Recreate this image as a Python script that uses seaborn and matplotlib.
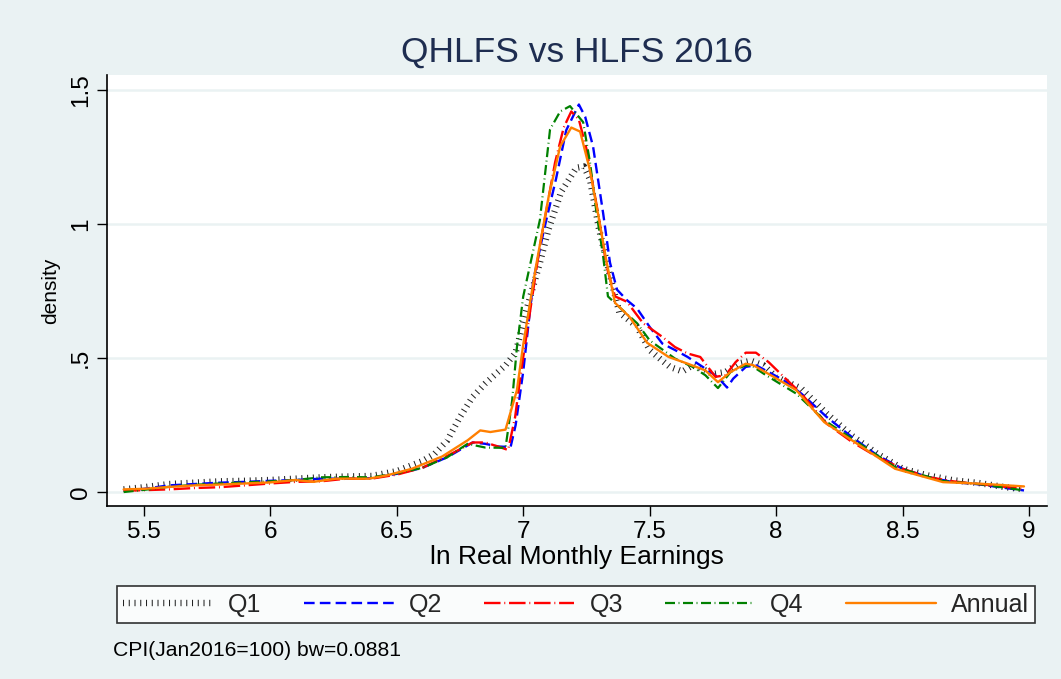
import numpy as np
import pandas as pd
import matplotlib
matplotlib.use('Agg')
import matplotlib.pyplot as plt
from matplotlib.lines import Line2D
import seaborn as sns

# kernel density estimates
q1_x = [5.42, 5.5, 5.6, 5.7, 5.8, 5.9, 6.0, 6.1, 6.2, 6.3, 6.4, 6.5, 6.6, 6.65, 6.7, 6.75, 6.8, 6.85,
        6.9, 6.93, 6.97, 7.01, 7.066, 7.1, 7.15, 7.21, 7.24, 7.264, 7.3, 7.34, 7.38, 7.45, 7.5, 7.55,
        7.58, 7.63, 7.67, 7.72, 7.75, 7.8, 7.85, 7.9, 7.95, 8.0, 8.1, 8.2, 8.3, 8.4, 8.5, 8.6, 8.7,
        8.8, 8.9, 8.98]
q1_y = [0.010, 0.018, 0.030, 0.035, 0.040, 0.042, 0.045, 0.050, 0.055, 0.058, 0.060, 0.078, 0.115,
        0.143, 0.193, 0.280, 0.355, 0.405, 0.448, 0.473, 0.520, 0.670, 0.856, 0.980, 1.120, 1.210,
        1.215, 1.166, 0.980, 0.820, 0.670, 0.617, 0.530, 0.490, 0.467, 0.450, 0.473, 0.454, 0.440,
        0.448, 0.479, 0.490, 0.473, 0.430, 0.386, 0.293, 0.210, 0.143, 0.087, 0.062, 0.044, 0.034,
        0.019, 0.010]

q2_x = [5.42, 5.5, 5.6, 5.7, 5.8, 5.9, 6.0, 6.1, 6.2, 6.3, 6.4, 6.5, 6.6, 6.7, 6.8, 6.85, 6.9, 6.95,
        6.97, 7.0, 7.04, 7.08, 7.13, 7.17, 7.22, 7.245, 7.276, 7.316, 7.343, 7.371, 7.41, 7.45, 7.5,
        7.55, 7.6, 7.65, 7.7, 7.75, 7.78, 7.806, 7.83, 7.88, 7.92, 7.97, 8.03, 8.1, 8.2, 8.3, 8.4,
        8.5, 8.6, 8.7, 8.8, 8.9, 8.98]
q2_y = [0.005, 0.012, 0.025, 0.030, 0.035, 0.038, 0.042, 0.045, 0.050, 0.050, 0.052, 0.068, 0.090,
        0.130, 0.185, 0.180, 0.170, 0.168, 0.250, 0.450, 0.790, 0.970, 1.170, 1.350, 1.446, 1.400,
        1.290, 1.040, 0.856, 0.755, 0.716, 0.685, 0.616, 0.554, 0.530, 0.504, 0.473, 0.442, 0.417,
        0.390, 0.423, 0.467, 0.473, 0.448, 0.417, 0.367, 0.280, 0.205, 0.137, 0.087, 0.056, 0.037,
        0.029, 0.016, 0.006]

q3_x = [5.42, 5.5, 5.6, 5.7, 5.8, 5.9, 6.0, 6.1, 6.2, 6.3, 6.4, 6.5, 6.6, 6.7, 6.8, 6.85, 6.9, 6.94,
        6.968, 6.99, 7.066, 7.126, 7.16, 7.19, 7.22, 7.25, 7.296, 7.33, 7.363, 7.41, 7.474, 7.55, 7.6,
        7.65, 7.7, 7.76, 7.8, 7.84, 7.88, 7.92, 7.97, 8.03, 8.1, 8.2, 8.3, 8.4, 8.5, 8.6, 8.7, 8.8,
        8.9, 8.98]
q3_y = [0.005, 0.007, 0.010, 0.015, 0.018, 0.025, 0.032, 0.038, 0.040, 0.050, 0.050, 0.065, 0.090,
        0.135, 0.185, 0.185, 0.170, 0.157, 0.280, 0.440, 0.920, 1.230, 1.360, 1.420, 1.390, 1.280,
        1.040, 0.840, 0.730, 0.710, 0.630, 0.579, 0.541, 0.517, 0.504, 0.430, 0.436, 0.485, 0.520,
        0.520, 0.485, 0.430, 0.367, 0.255, 0.187, 0.131, 0.087, 0.056, 0.040, 0.030, 0.020, 0.012]

q4_x = [5.42, 5.5, 5.6, 5.7, 5.8, 5.9, 6.0, 6.1, 6.2, 6.3, 6.4, 6.5, 6.6, 6.7, 6.78, 6.85, 6.93,
        6.956, 6.975, 7.0, 7.066, 7.106, 7.146, 7.185, 7.237, 7.264, 7.29, 7.316, 7.335, 7.38, 7.45,
        7.5, 7.6, 7.67, 7.72, 7.77, 7.82, 7.88, 7.91, 7.96, 8.08, 8.19, 8.35, 8.47, 8.66, 8.81, 8.98]
q4_y = [0.000, 0.008, 0.020, 0.027, 0.032, 0.036, 0.040, 0.045, 0.055, 0.056, 0.055, 0.070, 0.090,
        0.130, 0.180, 0.166, 0.165, 0.340, 0.540, 0.730, 1.016, 1.353, 1.420, 1.440, 1.380, 1.230,
        1.040, 0.880, 0.730, 0.690, 0.630, 0.566, 0.498, 0.467, 0.436, 0.388, 0.448, 0.473, 0.467,
        0.436, 0.367, 0.268, 0.168, 0.093, 0.041, 0.029, 0.006]

annual_x = [5.42, 5.5, 5.6, 5.7, 5.8, 5.9, 6.0, 6.1, 6.17, 6.26, 6.39, 6.46, 6.56, 6.68, 6.78, 6.83,
            6.87, 6.93, 6.975, 7.0, 7.05, 7.1, 7.146, 7.19, 7.225, 7.264, 7.3, 7.33, 7.363, 7.42,
            7.49, 7.575, 7.65, 7.72, 7.77, 7.82, 7.88, 7.91, 7.99, 8.08, 8.19, 8.35, 8.47, 8.66,
            8.81, 8.98]
annual_y = [0.010, 0.012, 0.019, 0.025, 0.028, 0.032, 0.036, 0.045, 0.038, 0.050, 0.050, 0.062,
            0.087, 0.133, 0.193, 0.230, 0.224, 0.233, 0.380, 0.550, 0.840, 1.100, 1.290, 1.360,
            1.345, 1.200, 1.016, 0.856, 0.706, 0.654, 0.557, 0.504, 0.479, 0.454, 0.410, 0.448,
            0.479, 0.473, 0.430, 0.380, 0.261, 0.162, 0.087, 0.037, 0.031, 0.021]

x_ticks = [5.5, 6, 6.5, 7, 7.5, 8, 8.5, 9]
x_tick_labels = ['5.5', '6', '6.5', '7', '7.5', '8', '8.5', '9']
y_ticks = [0, 0.5, 1, 1.5]
y_tick_labels = ['0', '.5', '1', '1.5']

bg = '#EAF2F3'
sns.set_style('white')
plt.rcParams['font.family'] = ['Liberation Sans', 'DejaVu Sans']

fig = plt.figure(figsize=(10.61, 6.79), dpi=100, facecolor=bg)
ax = fig.add_axes([0.1008, 0.2548, 0.886, 0.6347])
ax.set_facecolor('white')

# series: (label, x, y, color, linestyle, linewidth)
series = [
    ('Q1', q1_x, q1_y, '#222222', (0, (0.16, 0.74)), 4.6),
    ('Q2', q2_x, q2_y, '#0000FF', (0, (4.5, 2.2)), 1.7),
    ('Q3', q3_x, q3_y, '#FF0000', (0, (7, 1.6, 0.4, 1.6)), 1.7),
    ('Q4', q4_x, q4_y, '#008000', (0, (4.5, 1.6, 0.4, 1.6)), 1.6),
    ('Annual', annual_x, annual_y, '#FF7F00', '-', 1.7),
]

handles = []
for name, xs, ys, col, ls, lw in series:
    df = pd.DataFrame({'x': xs, 'y': ys})
    sns.lineplot(data=df, x='x', y='y', ax=ax, color=col, linestyle=ls,
                 linewidth=lw, estimator=None, sort=False)
    ax.lines[-1].set_dash_capstyle('butt')
    handles.append(Line2D([], [], color=col, linestyle=ls, linewidth=lw,
                          dash_capstyle='butt', label=name))

ax.set_xlim(5.354, 9.071)
ax.set_ylim(-0.052, 1.556)
ax.set_xticks(x_ticks)
ax.set_xticklabels(x_tick_labels)
ax.set_yticks(y_ticks)
ax.set_yticklabels(y_tick_labels, rotation=90, va='center')
ax.yaxis.grid(True, color=bg, linewidth=1.8)
ax.xaxis.grid(False)
ax.set_axisbelow(True)

for s in ['top', 'right']:
    ax.spines[s].set_visible(False)
for s in ['left', 'bottom']:
    ax.spines[s].set_color('black')
    ax.spines[s].set_linewidth(1.2)

ax.tick_params(axis='both', direction='out', length=7, width=1, color='black',
               labelsize=17.5, labelcolor='black', pad=4)
ax.tick_params(axis='x', bottom=True)
ax.tick_params(axis='y', left=True)

ax.set_xlabel('ln Real Monthly Earnings', fontsize=19, color='black')
ax.set_ylabel('density', fontsize=15, color='black')
ax.xaxis.set_label_coords(0.5, -0.09)
ax.yaxis.set_label_coords(-0.05, 0.5)

fig.text(577 / 1061, 1 - 52 / 679, 'QHLFS vs HLFS 2016', ha='center', va='center',
         fontsize=25.5, color='#1E2D50')

leg = fig.legend(handles=handles, loc='center', ncol=5, mode='expand',
                 bbox_to_anchor=(0.1103, 0.0795, 0.8652, 0.0604), fontsize=18,
                 handlelength=3.6, handletextpad=0.6, borderaxespad=0, borderpad=0.25,
                 frameon=True, fancybox=False, edgecolor='black', facecolor='white')
leg.get_frame().set_linewidth(1.2)

fig.text(113 / 1061, 1 - 651 / 679, 'CPI(Jan2016=100) bw=0.0881', ha='left', va='center',
         fontsize=15.2, color='black')

fig.savefig('out.png', dpi=100, facecolor=bg)
